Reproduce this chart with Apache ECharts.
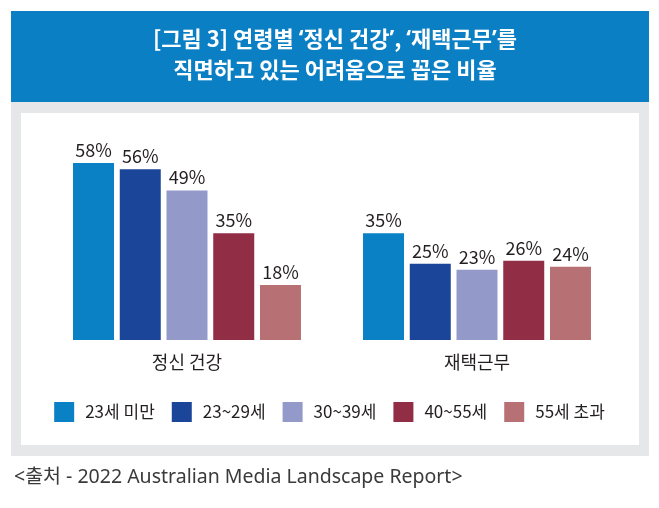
<!DOCTYPE html>
<html>
<head>
<meta charset="utf-8">
<script src="https://cdn.jsdelivr.net/npm/echarts@6/dist/echarts.min.js"></script>
<style>
  html, body { margin: 0; padding: 0; background: #fff; }
  #chart { width: 659px; height: 508px; }
</style>
</head>
<body>
<div id="chart"></div>
<script>
'use strict';
// 데이터
var categories = ['정신 건강', '재택근무'];
var ageGroups = ['23세 미만', '23~29세', '30~39세', '40~55세', '55세 초과'];
var under23 = [58, 35];
var age23to29 = [56, 25];
var age30to39 = [49, 23];
var age40to55 = [35, 26];
var over55 = [18, 24];
var colors = ['#0a80c5', '#1b4598', '#9399c9', '#922d46', '#b77174'];

var seriesValues = [under23, age23to29, age30to39, age40to55, over55];
var font = '"Noto Sans CJK KR", "Noto Sans", sans-serif';

var chart = echarts.init(document.getElementById('chart'));

var series = ageGroups.map(function (name, i) {
    return {
        name: name,
        type: 'bar',
        data: seriesValues[i],
        barWidth: 41,
        barGap: '14%',
        itemStyle: { color: colors[i] },
        label: {
            show: true,
            position: 'top',
            distance: 4,
            formatter: '{c}%',
            color: '#231f20',
            fontSize: 18,
            fontFamily: font
        }
    };
});

var titleStyle = {
    color: '#ffffff',
    fontSize: 22,
    fontWeight: 'bold',
    lineHeight: 31,
    fontFamily: font
};

var option = {
    animation: false,
    textStyle: { fontFamily: font },
    graphic: [
        { type: 'rect', z: 0, shape: { x: 11, y: 11, width: 638, height: 91 }, style: { fill: '#0b7fc3' } },
        { type: 'rect', z: 0, shape: { x: 11, y: 102, width: 638, height: 354 }, style: { fill: '#e6e7e8' } },
        { type: 'rect', z: 0, shape: { x: 21, y: 113, width: 618, height: 332 }, style: { fill: '#ffffff' } }
    ],
    title: [{
        text: '[그림 3] 연령별 {q|‘}정신 건강{q|’}, {q|‘}재택근무{q|’}를\n직면하고 있는 어려움으로 꼽은 비율',
        left: 330,
        top: 18,
        textAlign: 'center',
        textStyle: Object.assign({}, titleStyle, {
            rich: {
                q: Object.assign({}, titleStyle, { fontFamily: '"Noto Sans", sans-serif' })
            }
        })
    }, {
        text: '<출처 - 2022 Australian Media Landscape Report>',
        left: 9,
        top: 463,
        textStyle: {
            color: '#3a3a3a',
            fontSize: 19.5,
            fontWeight: 'normal',
            fontFamily: '"Noto Sans", "Noto Sans CJK KR", sans-serif'
        }
    }],
    legend: {
        data: ageGroups,
        left: 'center',
        top: 397,
        itemWidth: 20,
        itemHeight: 20,
        itemGap: 17,
        icon: 'rect',
        textStyle: {
            color: '#231f20',
            fontSize: 17,
            padding: [0, 0, 0, 6],
            fontFamily: font
        }
    },
    grid: { left: 42, right: 37, top: 157, bottom: 168 },
    xAxis: {
        type: 'category',
        data: categories,
        axisLine: { show: false },
        axisTick: { show: false },
        axisLabel: { margin: 13, color: '#231f20', fontSize: 18, fontFamily: font }
    },
    yAxis: {
        type: 'value',
        min: 0,
        max: 60,
        show: false,
        splitLine: { show: false }
    },
    series: series
};
chart.setOption(option);
</script>
</body>
</html>
